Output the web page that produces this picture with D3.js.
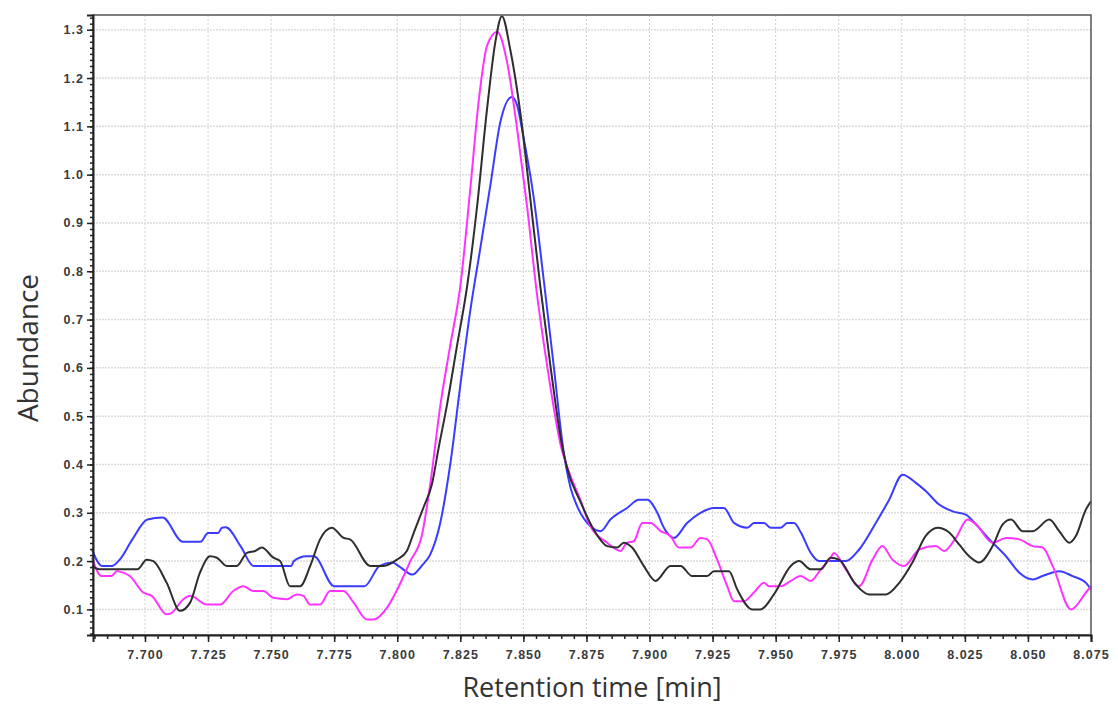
<!DOCTYPE html>
<html>
<head>
<meta charset="utf-8">
<script src="https://cdn.jsdelivr.net/npm/d3@7"></script>
<style>
  body { margin: 0; background: #fff; }
  svg { display: block; font-family: "Open Sans", "Noto Sans", sans-serif; }
</style>
</head>
<body>
<svg width="1118" height="707"></svg>
<script>
// traces: [retention time (min), abundance]
const blueTrace = [
  [7.679, 0.224], [7.683, 0.19], [7.687, 0.19], [7.690, 0.203], [7.695, 0.245], [7.701, 0.286],
  [7.707, 0.29], [7.715, 0.24], [7.722, 0.24], [7.725, 0.258], [7.729, 0.258], [7.7305, 0.269],
  [7.732, 0.27], [7.738, 0.23], [7.743, 0.19], [7.754, 0.19], [7.758, 0.19], [7.759, 0.2],
  [7.764, 0.21], [7.767, 0.21], [7.775, 0.148], [7.787, 0.148], [7.793, 0.19], [7.798, 0.197],
  [7.801, 0.188], [7.806, 0.172], [7.810, 0.192], [7.813, 0.213], [7.817, 0.278], [7.821, 0.40],
  [7.825, 0.564], [7.829, 0.72], [7.833, 0.85], [7.837, 0.981], [7.841, 1.112], [7.8455, 1.161],
  [7.8475, 1.144], [7.850, 1.079], [7.854, 0.956], [7.858, 0.785], [7.862, 0.605], [7.866, 0.425],
  [7.8687, 0.352], [7.8713, 0.314], [7.8766, 0.272], [7.8806, 0.262], [7.8845, 0.286], [7.8911, 0.31],
  [7.8958, 0.327], [7.8991, 0.327], [7.9031, 0.30], [7.9057, 0.269], [7.9097, 0.248], [7.9149, 0.279],
  [7.9202, 0.30], [7.9255, 0.31], [7.9295, 0.31], [7.9335, 0.279], [7.9388, 0.269], [7.9414, 0.279],
  [7.9454, 0.279], [7.948, 0.269], [7.952, 0.269], [7.9546, 0.279], [7.9573, 0.279], [7.960, 0.259],
  [7.9639, 0.217], [7.9672, 0.20], [7.9705, 0.20], [7.9778, 0.20], [7.9831, 0.224], [7.9897, 0.279],
  [7.995, 0.327], [8.0003, 0.379], [8.0056, 0.362], [8.0095, 0.345], [8.0148, 0.317], [8.0202, 0.303],
  [8.0254, 0.296], [8.0294, 0.276], [8.0347, 0.245], [8.0413, 0.21], [8.0466, 0.176], [8.0519, 0.162],
  [8.0558, 0.169], [8.0624, 0.179], [8.0677, 0.169], [8.073, 0.155], [8.075, 0.141]
];

const magentaTrace = [
  [7.679, 0.207], [7.6828, 0.169], [7.6868, 0.169], [7.6888, 0.179], [7.6914, 0.176], [7.694, 0.169],
  [7.6993, 0.135], [7.7027, 0.128], [7.7086, 0.09], [7.7106, 0.093], [7.7152, 0.121], [7.7179, 0.128],
  [7.7245, 0.11], [7.7298, 0.11], [7.735, 0.138], [7.739, 0.148], [7.743, 0.138], [7.7469, 0.138],
  [7.7509, 0.124], [7.7562, 0.121], [7.7602, 0.131], [7.7628, 0.128], [7.7655, 0.11], [7.7694, 0.11],
  [7.7734, 0.138], [7.7787, 0.138], [7.7827, 0.114], [7.788, 0.079], [7.7906, 0.079], [7.7959, 0.103],
  [7.7999, 0.14], [7.8052, 0.20], [7.8098, 0.254], [7.8131, 0.36], [7.8171, 0.523], [7.821, 0.646],
  [7.825, 0.769], [7.829, 0.973], [7.8323, 1.153], [7.8356, 1.267], [7.8396, 1.296], [7.8435, 1.234],
  [7.8475, 1.095], [7.8515, 0.932], [7.8554, 0.752], [7.8594, 0.605], [7.8647, 0.442], [7.8687, 0.376],
  [7.8726, 0.327], [7.8766, 0.272], [7.8832, 0.238], [7.8885, 0.221], [7.8911, 0.238], [7.8938, 0.241],
  [7.8971, 0.279], [7.9004, 0.279], [7.9044, 0.262], [7.9083, 0.252], [7.9116, 0.228], [7.9163, 0.228],
  [7.9202, 0.248], [7.9229, 0.245], [7.9268, 0.203], [7.9308, 0.148], [7.9335, 0.117], [7.9374, 0.117],
  [7.9414, 0.135], [7.9454, 0.155], [7.9473, 0.148], [7.952, 0.148], [7.956, 0.159], [7.9599, 0.169],
  [7.9639, 0.159], [7.9679, 0.183], [7.9718, 0.207], [7.9731, 0.217], [7.9778, 0.183], [7.9831, 0.148],
  [7.9884, 0.203], [7.9923, 0.231], [7.9963, 0.203], [8.0009, 0.19], [8.0069, 0.224], [8.0135, 0.231],
  [8.0168, 0.221], [8.0214, 0.248], [8.0261, 0.286], [8.0294, 0.276], [8.036, 0.238], [8.0413, 0.248],
  [8.0466, 0.245], [8.0519, 0.231], [8.0558, 0.228], [8.0598, 0.19], [8.0671, 0.10], [8.073, 0.135],
  [8.075, 0.148]
];

const blackTrace = [
  [7.679, 0.19], [7.682, 0.183], [7.697, 0.183], [7.7007, 0.203], [7.7033, 0.2], [7.7086, 0.155],
  [7.7139, 0.097], [7.7179, 0.114], [7.7218, 0.176], [7.7258, 0.21], [7.7285, 0.207], [7.7324, 0.19],
  [7.7364, 0.19], [7.7404, 0.217], [7.7437, 0.221], [7.7463, 0.228], [7.7509, 0.207], [7.7536, 0.20],
  [7.7575, 0.148], [7.7615, 0.148], [7.7655, 0.19], [7.7694, 0.245], [7.7741, 0.269], [7.7787, 0.248],
  [7.7813, 0.245], [7.7893, 0.19], [7.7946, 0.19], [7.7999, 0.203], [7.8038, 0.221], [7.8065, 0.258],
  [7.8104, 0.311], [7.8138, 0.36], [7.8164, 0.434], [7.8197, 0.523], [7.8237, 0.646], [7.8277, 0.769],
  [7.8316, 0.932], [7.8356, 1.136], [7.8389, 1.275], [7.8415, 1.328], [7.8448, 1.259], [7.8488, 1.128],
  [7.8528, 0.948], [7.8567, 0.769], [7.8607, 0.605], [7.8647, 0.458], [7.8673, 0.393], [7.8726, 0.323],
  [7.8779, 0.265], [7.8832, 0.231], [7.8872, 0.228], [7.8898, 0.238], [7.8931, 0.228], [7.8977, 0.19],
  [7.9024, 0.159], [7.9083, 0.19], [7.9123, 0.19], [7.9169, 0.169], [7.9229, 0.169], [7.9255, 0.179],
  [7.9315, 0.179], [7.9348, 0.141], [7.9407, 0.10], [7.944, 0.10], [7.9493, 0.131], [7.956, 0.19],
  [7.9593, 0.20], [7.9639, 0.183], [7.9679, 0.183], [7.9718, 0.207], [7.9751, 0.203], [7.9817, 0.152],
  [7.987, 0.131], [7.9937, 0.131], [7.999, 0.155], [8.0042, 0.197], [8.0095, 0.252], [8.0142, 0.269],
  [8.0188, 0.259], [8.0228, 0.234], [8.0267, 0.21], [8.0307, 0.197], [8.036, 0.231], [8.040, 0.276],
  [8.0433, 0.286], [8.0479, 0.262], [8.0519, 0.262], [8.0585, 0.286], [8.0624, 0.262], [8.0664, 0.238],
  [8.069, 0.252], [8.073, 0.307], [8.075, 0.324]
];

const traces = [
  { data: blueTrace, color: '#3b3bff' },
  { data: magentaTrace, color: '#ff33ff' },
  { data: blackTrace, color: '#2e2e2e' },
];

const xTicks = [7.700, 7.725, 7.750, 7.775, 7.800, 7.825, 7.850, 7.875, 7.900, 7.925, 7.950, 7.975, 8.000, 8.025, 8.050, 8.075];
const yTicks = [0.1, 0.2, 0.3, 0.4, 0.5, 0.6, 0.7, 0.8, 0.9, 1.0, 1.1, 1.2, 1.3];

const margin = { top: 15, right: 27, bottom: 72, left: 93 };
const width = 1118 - margin.left - margin.right;
const height = 707 - margin.top - margin.bottom;

const svg = d3.select('svg');
const g = svg.append('g').attr('transform', `translate(${margin.left},${margin.top})`);

const x = d3.scaleLinear().domain([7.6794, 8.075]).range([0, width]);
const y = d3.scaleLinear().domain([0.047, 1.3305]).range([height, 0]);

// grid
g.append('g')
  .selectAll('line')
  .data(xTicks.filter((d) => d < 8.07))
  .join('line')
  .attr('x1', (d) => x(d))
  .attr('x2', (d) => x(d))
  .attr('y1', 0)
  .attr('y2', height)
  .attr('stroke', '#cfcfcf')
  .attr('stroke-dasharray', '2,2');

g.append('g')
  .selectAll('line')
  .data(yTicks)
  .join('line')
  .attr('x1', 0)
  .attr('x2', width)
  .attr('y1', (d) => y(d))
  .attr('y2', (d) => y(d))
  .attr('stroke', '#dcdcdc')
  .attr('stroke-width', 1.5)
  .attr('stroke-dasharray', '2,1');

// traces
const line = d3
  .line()
  .x((d) => x(d[0]))
  .y((d) => y(d[1]))
  .curve(d3.curveMonotoneX);

g.append('g')
  .selectAll('path')
  .data(traces)
  .join('path')
  .attr('d', (d) => line(d.data))
  .attr('fill', 'none')
  .attr('stroke', (d) => d.color)
  .attr('stroke-width', 2)
  .attr('stroke-linejoin', 'round');

// frame
g.append('rect')
  .attr('width', width)
  .attr('height', height)
  .attr('fill', 'none')
  .attr('stroke', '#555')
  .attr('stroke-width', 1.5);

// axes
const xMinor = d3.range(7.680, 8.0751, 0.005);
g.append('g')
  .attr('transform', `translate(0,${height})`)
  .call(d3.axisBottom(x).tickValues(xMinor).tickSize(4).tickFormat(''))
  .call((a) => a.select('.domain').remove())
  .call((a) => a.selectAll('line').attr('stroke', '#222').attr('stroke-width', 1.5));

g.append('g')
  .attr('transform', `translate(0,${height})`)
  .call(d3.axisBottom(x).tickValues(xTicks).tickSize(7).tickPadding(8).tickFormat(d3.format('.3f')))
  .call((a) => a.select('.domain').attr('stroke', '#222').attr('stroke-width', 2))
  .call((a) => a.selectAll('line').attr('stroke', '#222').attr('stroke-width', 1.5))
  .call((a) =>
    a.selectAll('text')
      .attr('fill', '#3a3a3a')
      .style('font-size', '12.5px')
      .style('font-weight', 'bold')
      .style('letter-spacing', '1px')
  );

const yMinor = d3.range(0.05, 1.331, 0.0125);
g.append('g')
  .call(d3.axisLeft(y).tickValues(yMinor).tickSize(3).tickFormat(''))
  .call((a) => a.select('.domain').remove())
  .call((a) => a.selectAll('line').attr('stroke', '#222').attr('stroke-width', 1.5));

g.append('g')
  .call(d3.axisLeft(y).tickValues(yTicks).tickSize(6).tickPadding(3).tickFormat(d3.format('.1f')))
  .call((a) => a.select('.domain').attr('stroke', '#222').attr('stroke-width', 2))
  .call((a) => a.selectAll('line').attr('stroke', '#222').attr('stroke-width', 1.5))
  .call((a) =>
    a.selectAll('text')
      .attr('fill', '#3a3a3a')
      .style('font-size', '12.5px')
      .style('font-weight', 'bold')
      .style('letter-spacing', '1px')
  );

// titles
svg.append('text')
  .attr('transform', 'translate(38,348) rotate(-90)')
  .attr('text-anchor', 'middle')
  .attr('fill', '#333')
  .style('font-size', '28px')
  .text('Abundance');

svg.append('text')
  .attr('x', 592)
  .attr('y', 697)
  .attr('text-anchor', 'middle')
  .attr('fill', '#333')
  .style('font-size', '27px')
  .text('Retention time [min]');
</script>
</body>
</html>
